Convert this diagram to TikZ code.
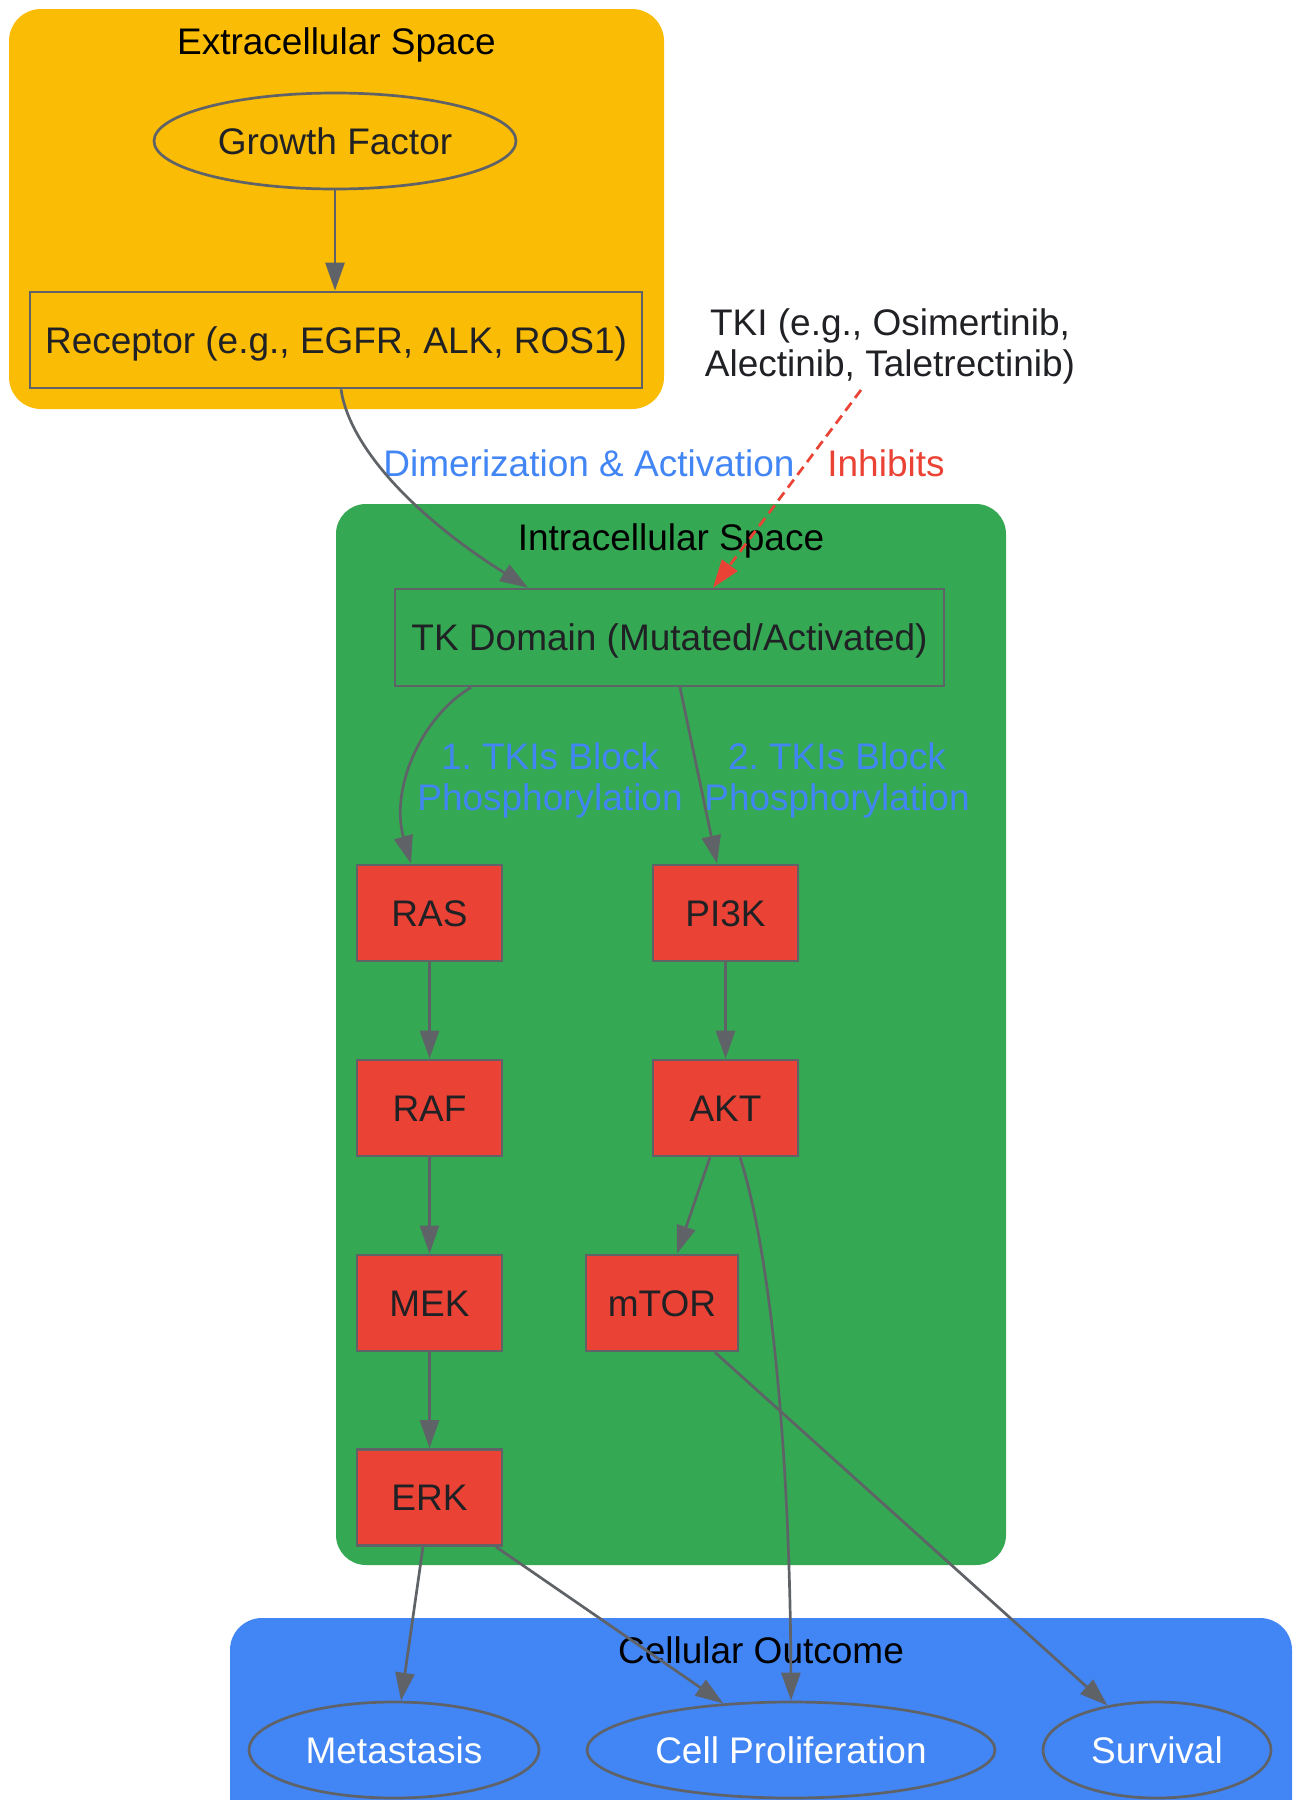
\documentclass[tikz,border=0pt]{standalone}
\usepackage{fontspec}
\setmainfont{Liberation Sans}
\usetikzlibrary{shapes.geometric,arrows.meta,calc}
\definecolor{gyellow}{HTML}{FBBC05}
\definecolor{ggreen}{HTML}{34A853}
\definecolor{gblue}{HTML}{4285F4}
\definecolor{gred}{HTML}{EA4335}
\definecolor{edgegrey}{HTML}{5F6368}
\definecolor{txt}{HTML}{202124}
\frenchspacing
\begin{document}
\begin{tikzpicture}[x=1pt,y=-1pt,
  every node/.style={font=\fontsize{37}{41}\selectfont, inner sep=0pt, text=txt},
  box/.style={draw=edgegrey, line width=2.7pt, rectangle, text height=26.5pt, text depth=0pt},
  ell/.style={draw=edgegrey, line width=2.7pt, ellipse, text height=26.5pt, text depth=0pt, minimum height=96pt},
  kinase/.style={box, fill=gred, minimum width=145pt, minimum height=96pt},
  outcome/.style={ell, fill=gblue, text=white},
  conn/.style={draw=edgegrey, line width=2.7pt, -{Triangle[length=28pt,width=19pt]}},
  inhib/.style={draw=gred, line width=2.7pt, dash pattern=on 10pt off 6pt, -{Triangle[length=28pt,width=19pt,fill=gred]}},
  lbl/.style={text=gblue},
  ctitle/.style={text=black, text height=26.5pt, text depth=0pt},
  single/.style={text height=26.5pt, text depth=0pt},
]
\useasboundingbox (0,0) rectangle (1293,1800);
\clip (0,0) rectangle (1293,1800);
% clusters
\fill[gyellow, rounded corners=32pt] (9,9) rectangle (664,409);
\fill[ggreen, rounded corners=30pt] (336,504) rectangle (1006,1565);
\fill[gblue, rounded corners=32pt] (230,1618) rectangle (1292,1880);
\node[ctitle] (extitle) at (336.5,41) {Extracellular Space};
\node[ctitle] (intitle) at (671,537) {Intracellular Space};
\node[ctitle] (outtitle) at (761,1650) {Cellular Outcome};
% nodes
\node[ell, fill=gyellow, minimum width=362pt] (gf) at (335,141) {Growth Factor};
\node[box, minimum width=612pt, minimum height=96pt] (rec) at (336,340) {Receptor (e.g., EGFR, ALK, ROS1)};
\node[align=center] (tki) at (890,346) {TKI (e.g., Osimertinib,\\Alectinib, Taletrectinib)};
\node[box, minimum width=549pt, minimum height=97pt] (tk) at (669.5,637.5) {TK Domain (Mutated/Activated)};
\node[kinase] (ras) at (429.5,913) {RAS};
\node[kinase] (pi3k) at (725.5,913) {PI3K};
\node[kinase] (raf) at (429.5,1108) {RAF};
\node[kinase] (akt) at (725.5,1108) {AKT};
\node[kinase] (mek) at (429.5,1303) {MEK};
\node[kinase, minimum width=152pt] (mtor) at (662,1303) {mTOR};
\node[kinase] (erk) at (429.5,1497.5) {ERK};
\node[outcome, minimum width=290pt] (met) at (394,1750) {Metastasis};
\node[outcome, minimum width=408pt] (cp) at (791,1750) {Cell Proliferation};
\node[outcome, minimum width=228pt] (surv) at (1157,1750) {Survival};
% labels
\node[lbl, single] (dimlbl) at (589,463) {Dimerization \& Activation};
\node[single, text=gred] (inhlbl) at (886,463) {Inhibits};
\node[lbl, align=center] (l1) at (550,780) {1. TKIs Block\\Phosphorylation};
\node[lbl, align=center] (l2) at (837,780) {2. TKIs Block\\Phosphorylation};
% edges
\draw[conn] (gf.south) -- (gf.south |- rec.north);
\draw[conn] ($(rec.south)+(5,0)$) .. controls (350,450) and (420,520) .. ($(tk.north)+(-141.5,0)$);
\draw[inhib] ($(tki.south)+(-29,6)$) -- ($(tk.north)+(43.5,0)$);
\draw[conn] ($(tk.south)+(-198.5,0)$) .. controls (420,718) and (390,790) .. ($(ras.north)+(-18.5,0)$);
\draw[conn] ($(tk.south)+(10.5,0)$) -- ($(pi3k.north)+(-8.5,0)$);
\draw[conn] (ras) -- (raf);
\draw[conn] (raf) -- (mek);
\draw[conn] (mek) -- (erk);
\draw[conn] (pi3k) -- (akt);
\draw[conn] ($(akt.south)+(-15.5,0)$) -- ($(mtor.north)+(15,0)$);
\draw[conn] ($(akt.south)+(14.5,0)$) .. controls (770,1250) and (790,1450) .. (cp.north);
\draw[conn] ($(mtor.south)+(53,0)$) -- (surv);
\draw[conn] ($(erk.south)+(-6.5,0)$) -- (met);
\draw[conn] ($(erk.south)+(66.5,0)$) -- (cp);
\end{tikzpicture}
\end{document}
